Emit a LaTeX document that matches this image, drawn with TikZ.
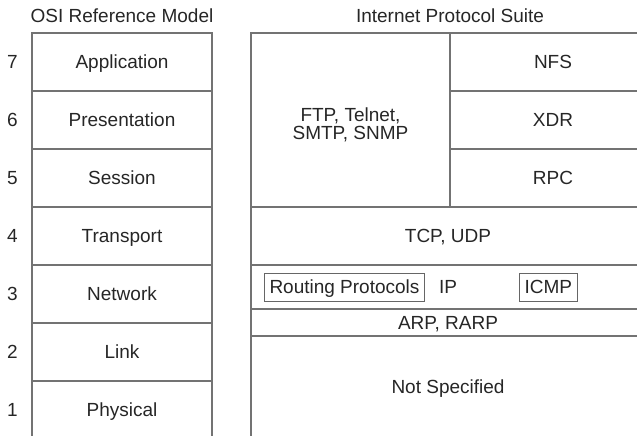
\documentclass[tikz,border=0pt]{standalone}
\usepackage{fontspec}
\setmainfont{Liberation Sans}
\usetikzlibrary{positioning}

\tikzset{
  layer/.style={draw=black!55, line width=1.3pt, inner sep=0pt, outer sep=0pt, text=black!85,
    font=\fontsize{19}{18}\selectfont, align=center, text height=13.6pt, text depth=0pt},
  protobox/.style={draw=black!60, line width=1pt, inner xsep=5.5pt, inner ysep=5pt, outer sep=0pt,
    minimum height=28pt, text=black!85, font=\fontsize{19}{20}\selectfont, text height=13.6pt, text depth=0pt},
  caption/.style={inner sep=0pt, text=black!85, font=\fontsize{19}{20}\selectfont, text height=13.6pt, text depth=0pt}
}

\begin{document}
\begin{tikzpicture}[x=1pt,y=1pt,yscale=-1,xscale=1]
\useasboundingbox (0,0) rectangle (637,436);
\clip (0,0) rectangle (637,436);

%OSI column
\node (app) [layer, anchor=north west, minimum width=180pt, minimum height=58pt] at (32,33) {Application};
\node (pres) [layer, below=0pt of app, minimum width=180pt, minimum height=58pt] {Presentation};
\node (sess) [layer, below=0pt of pres, minimum width=180pt, minimum height=58pt] {Session};
\node (trans) [layer, below=0pt of sess, minimum width=180pt, minimum height=58pt] {Transport};
\node (net) [layer, below=0pt of trans, minimum width=180pt, minimum height=58pt] {Network};
\node (link) [layer, below=0pt of net, minimum width=180pt, minimum height=58pt] {Link};
\node (phys) [layer, below=0pt of link, minimum width=180pt, minimum height=58pt] {Physical};

% Text Node
\node (n7) [caption, left=14pt of app] {7};
\node (n6) [caption, left=14pt of pres] {6};
\node (n5) [caption, left=14pt of sess] {5};
\node (n4) [caption, left=14pt of trans] {4};
\node (n3) [caption, left=14pt of net] {3};
\node (n2) [caption, left=14pt of link] {2};
\node (n1) [caption, left=14pt of phys] {1};

%Internet column
\node (apps) [layer, anchor=north west, minimum width=199pt, minimum height=174pt,
  label={[inner sep=0pt, text=black!85, align=center, font=\fontsize{19}{18}\selectfont, yshift=-5pt]center:{FTP, Telnet,\\SMTP, SNMP}}] at (251,33) {};
\node (nfs) [layer, anchor=north west, minimum width=206pt, minimum height=58pt] at (apps.north east) {NFS};
\node (xdr) [layer, below=0pt of nfs, minimum width=206pt, minimum height=58pt] {XDR};
\node (rpc) [layer, below=0pt of xdr, minimum width=206pt, minimum height=58pt] {RPC};
\node (tcp) [layer, anchor=north west, minimum width=394pt, minimum height=58pt] at (apps.south west) {TCP, UDP};
\node (ip) [layer, below=0pt of tcp, minimum width=394pt, minimum height=44pt] {IP};
\node (arp) [layer, below=0pt of ip, minimum width=394pt, minimum height=27pt] {ARP, RARP};
\node (notspec) [layer, below=0pt of arp, minimum width=394pt, minimum height=102pt] {Not Specified};

\node (routing) [protobox, right=13pt of ip.west] {Routing Protocols};
\node (icmp) [protobox, anchor=west] at ([xshift=71pt]ip.center) {ICMP};

% Text Node
\node (osi) [caption, above=10pt of app.north] {OSI Reference Model};
\node (ips) [caption, above=10pt of apps.north east] {Internet Protocol Suite};

\end{tikzpicture}
\end{document}
